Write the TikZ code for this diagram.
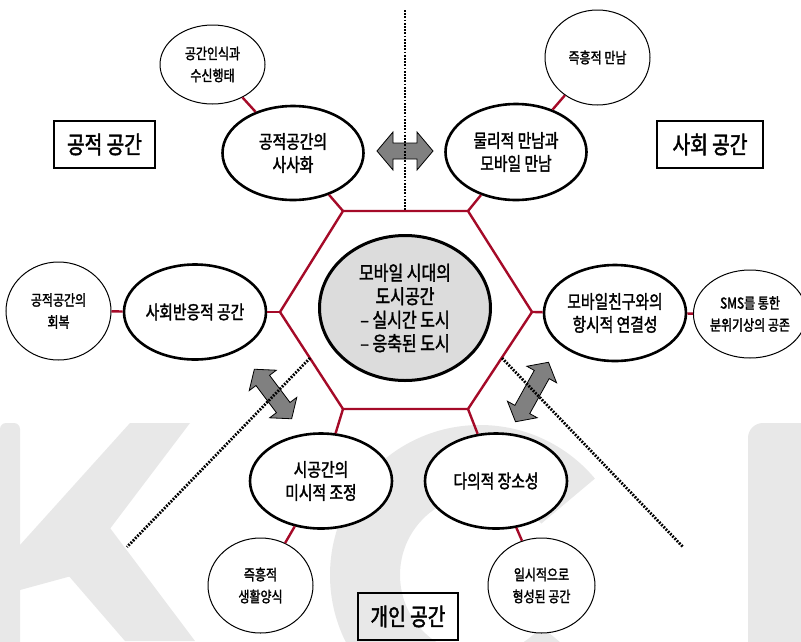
\documentclass[tikz,border=0pt]{standalone}
\usepackage{fontspec}
\setmainfont[FakeStretch=0.8, FakeBold=1.8]{Noto Sans CJK KR}
\usetikzlibrary{shapes.geometric}
\definecolor{hexred}{RGB}{165,10,40}
\definecolor{wmgray}{RGB}{232,232,232}
\definecolor{arrgray}{RGB}{128,128,128}
\definecolor{cgray}{RGB}{220,220,220}
\begin{document}
\begin{tikzpicture}[x=1pt,y=-1pt,
  mainell/.style={ellipse, draw, line width=2.6pt, fill=white, inner sep=0pt, align=center, font=\fontsize{18.5}{23}\selectfont},
  smallell/.style={ellipse, draw, line width=1pt, fill=white, inner sep=0pt, align=center, font=\fontsize{15}{22}\selectfont},
  spacebox/.style={rectangle, draw, line width=2.6pt, inner sep=0pt, font=\fontsize{24}{28}\selectfont},
  redline/.style={draw=hexred, line width=2.4pt},
  dotline/.style={line width=2.8pt, dash pattern=on 1.8pt off 1.4pt},
  arrowshape/.style={draw=black, line width=0.8pt, fill=arrgray, line join=miter},
  pics/dblarr/.style n args={4}{code={
    \path[arrowshape] (-#1,0) -- (-#1+#2,#3) -- (-#1+#2,#4) -- (#1-#2,#4) -- (#1-#2,#3) -- (#1,0)
      -- (#1-#2,-#3) -- (#1-#2,-#4) -- (-#1+#2,-#4) -- (-#1+#2,-#3) -- cycle;
  }}
]
\useasboundingbox (0,0) rectangle (801,641);
\fill[white] (0,0) rectangle (801,641);

% watermark
\fill[wmgray, rounded corners=6pt] (0,423) rectangle (20,660);
\fill[wmgray] (130,423) -- (190,423) -- (75,575) -- (20,590) -- (20,545) -- cycle;
\fill[wmgray] (55,560) -- (98,512) -- (195,641) -- (125,641) -- cycle;
\fill[wmgray] ([shift={(40:150pt)}]480,575) arc[start angle=40, end angle=320, radius=150pt]
  -- ([shift={(320:80pt)}]480,575) arc[start angle=320, end angle=40, radius=80pt] -- cycle;
\fill[wmgray, rounded corners=15pt] (748,423) rectangle (830,670);

% hexagon
\coordinate (hTL) at (343,211);
\coordinate (hTR) at (468,211);
\coordinate (hR) at (532,312);
\coordinate (hBR) at (468,409);
\coordinate (hBL) at (343,409);
\coordinate (hL) at (280,312);
\draw[redline, line join=miter] (hTL) -- (hTR) -- (hR) -- (hBR) -- (hBL) -- (hL) -- cycle;

% nodes
\node[mainell, fill=cgray, line width=3pt, minimum width=171, minimum height=145,
  font=\fontsize{20}{23.5}\selectfont] (e0) at (405,308) {모바일 시대의\\도시공간\\– 실시간 도시\\– 응축된 도시};
\node[mainell, minimum width=141, minimum height=94] (e1) at (293,153) {공적공간의\\사사화};
\node[mainell, minimum width=141, minimum height=96] (e2) at (516,152) {물리적 만남과\\모바일 만남};
\node[mainell, minimum width=142, minimum height=95] (e3) at (195,312) {사회반응적 공간};
\node[mainell, minimum width=142, minimum height=96] (e4) at (615,313) {모바일친구와의\\항시적 연결성};
\node[mainell, minimum width=142, minimum height=95] (e5) at (321,481) {시공간의\\미시적 조정};
\node[mainell, minimum width=142, minimum height=95] (e6) at (496,481) {다의적 장소성};

\node[smallell, minimum width=105, minimum height=79] (s1) at (212.5,64.5) {공간인식과\\수신행태};
\node[smallell, minimum width=105, minimum height=95] (s2) at (597.5,57.5) {즉흥적 만남};
\node[smallell, minimum width=105, minimum height=98] (s3) at (58.5,311) {공적공간의\\회복};
\node[smallell, minimum width=103, minimum height=88] (s4) at (750,314) {SMS를 통한\\분위기상의 공존};
\node[smallell, minimum width=105, minimum height=95] (s5) at (260.5,585.5) {즉흥적\\생활양식};
\node[smallell, minimum width=107, minimum height=95] (s6) at (541.5,585.5) {일시적으로\\형성된 공간};

\node[spacebox, minimum width=101, minimum height=47] (b1) at (104.5,144.5) {공적 공간};
\node[spacebox, minimum width=106, minimum height=47] (b2) at (710,144.5) {사회 공간};
\node[spacebox, minimum width=100, minimum height=47] (b3) at (408,616.5) {개인 공간};

% red connectors
\draw[redline] (hTL) -- (e1);
\draw[redline] (hTR) -- (e2);
\draw[redline] (hL) -- (e3);
\draw[redline] (hR) -- (e4);
\draw[redline] (hBL) -- (e5);
\draw[redline] (hBR) -- (e6);
\draw[redline] (e1) -- (s1);
\draw[redline] (e2) -- (s2);
\draw[redline] (e3) -- (s3);
\draw[redline] (e4) -- (s4);
\draw[redline] (e5) -- (s5);
\draw[redline] (e6) -- (s6);

% double arrows
\pic at (405,151) {dblarr={28}{16}{19}{8}};
\pic[rotate=-53] at (273,394) {dblarr={31}{14}{17}{8.5}};
\pic[rotate=61] at (532,392) {dblarr={34}{14}{17}{8.5}};

% dotted dividers
\coordinate (d1a) at (405,10);
\coordinate (d1b) at (405,211);
\coordinate (d2a) at (310,358);
\coordinate (d2b) at (127,547);
\coordinate (d3a) at (502,358);
\coordinate (d3b) at (683,547);
\draw[dotline] (d1a) -- (d1b);
\draw[dotline] (d2a) -- (d2b);
\draw[dotline] (d3a) -- (d3b);
\end{tikzpicture}
\end{document}
